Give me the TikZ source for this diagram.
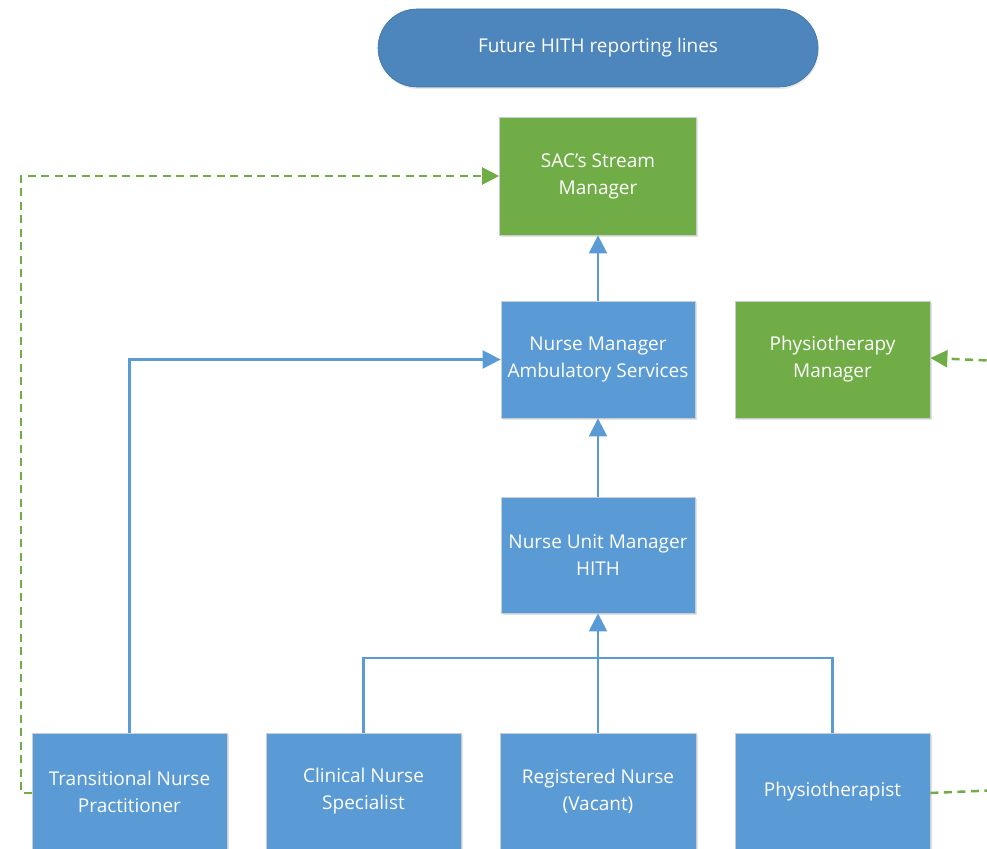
\documentclass[tikz,border=0pt]{standalone}
\usepackage{fontspec}
\setmainfont{Open Sans}
\usetikzlibrary{arrows.meta,shadows}
\definecolor{boxblue}{HTML}{5B9BD5}
\definecolor{boxgreen}{HTML}{70AD47}
\definecolor{titleblue}{HTML}{4D86BC}
\definecolor{edgegray}{HTML}{C8CDD2}
\tikzset{
  orgbox/.style={rectangle, draw=edgegray, line width=0.8pt, text=white, align=center,
    minimum width=195pt, minimum height=117pt, inner sep=0pt,
    font=\fontsize{19}{27}\selectfont,
    drop shadow={shadow xshift=1.5pt, shadow yshift=-2pt, opacity=0.18, fill=black!60}},
  bluebox/.style={orgbox, fill=boxblue},
  greenbox/.style={orgbox, fill=boxgreen},
  bluelink/.style={draw=boxblue, line width=2.5pt},
  bluearrow/.style={bluelink, -{Triangle[length=18pt,width=18pt]}},
  greenlink/.style={draw=boxgreen, line width=2.5pt, dash pattern=on 8pt off 5.5pt},
  greenarrow/.style={greenlink, -{Triangle[length=17pt,width=17pt]}},
}
\begin{document}
\begin{tikzpicture}[x=1pt,y=-1pt]
\useasboundingbox (0,0) rectangle (987,848);
\clip (0,0) rectangle (987,848);
% title
\node[rectangle, rounded corners=39pt, fill=titleblue, draw=titleblue!85!black, line width=0.6pt,
  minimum width=440pt, minimum height=78pt, text=white, font=\fontsize{19}{24}\selectfont,
  drop shadow={shadow xshift=1pt, shadow yshift=-2pt, opacity=0.15, fill=black!60}]
  (title) at (598,48) {Future HITH reporting lines};
% boxes
\node[greenbox, minimum width=197pt, minimum height=118pt] (sac) at (598,176) {SAC’s Stream\\Manager};
\node[bluebox, minimum width=194pt] (nmas) at (598,359.5) {Nurse Manager\\Ambulatory Services};
\node[greenbox] (pm) at (832.5,359.5) {Physiotherapy\\Manager};
\node[bluebox, minimum width=194pt, minimum height=116pt] (num) at (598,555) {Nurse Unit Manager\\HITH};
\node[bluebox] (tnp) at (129.5,791.5) {Transitional Nurse\\Practitioner};
\node[bluebox] (cns) at (363.5,791.5) {Clinical Nurse\\Specialist};
\node[bluebox, minimum width=196pt] (rn) at (598,791.5) {Registered Nurse\\(Vacant)};
\node[bluebox] (phys) at (832.5,791.5) {Physiotherapist};
% coordinates
\coordinate (bus) at (598,658);
\coordinate (leftx) at (21,0);
\coordinate (outlow) at (1000,790);
\coordinate (outhigh) at (1000,361);
% blue connectors
\draw[bluearrow] (num.north) -- (nmas.south);
\draw[bluearrow] (nmas.north) -- (sac.south);
\draw[bluearrow] (tnp.north) |- (nmas.west);
\draw[bluelink] (cns.north) |- (bus);
\draw[bluelink] (phys.north) |- (bus);
\draw[bluearrow] (rn.north) -- (num.south);
% green dashed connectors
\draw[greenarrow] ([yshift=-1.5pt]tnp.west) -- ([yshift=-1.5pt]tnp.west -| leftx) |- (sac.west);
\draw[greenlink] ([yshift=-1.5pt]phys.east) -- (outlow);
\draw[greenarrow] (outhigh) -- ([yshift=1.5pt]pm.east);
\end{tikzpicture}
\end{document}
